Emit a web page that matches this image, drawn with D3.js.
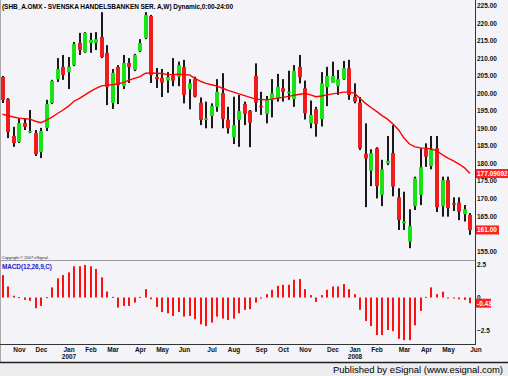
<!DOCTYPE html>
<html>
<head>
<meta charset="utf-8">
<script src="https://cdn.jsdelivr.net/npm/d3@7"></script>
<style>
  body { margin: 0; background: #f4f3f7; }
  svg { display: block; }
  text { font-family: "Liberation Sans", Arial, sans-serif; }
</style>
</head>
<body>
<div id="chart"></div>
<script>
// Weekly candles SHB A, Oct 2006 - Jun 2008, with moving average and MACD histogram

var open  = [204.6, 198.3, 187.8, 186.1, 191.5, 188.8, 188.6, 183.2, 190.1, 197.2,
             204.0, 207.5, 206.0, 208.0, 214.3, 211.7, 214.3, 214.3, 216.0, 211.5,
             197.2, 207.5, 202.0, 208.6, 206.6, 212.0, 215.7, 222.0, 204.6, 204.4,
             203.6, 205.0, 204.7, 207.4, 201.1, 204.0, 197.3, 192.4, 193.5, 196.1,
             200.0, 192.4, 187.4, 192.4, 196.9, 195.0, 204.9, 196.4, 194.1, 198.1,
             198.5, 201.4, 200.0, 198.3, 207.5, 201.4, 191.4, 195.4, 192.6, 201.7,
             203.0, 202.0, 204.0, 207.1, 199.0, 197.3, 182.7, 177.9, 184.3, 171.0,
             180.0, 182.9, 170.3, 162.9, 157.7, 167.8, 171.0, 184.0, 179.2, 184.3,
             167.8, 175.2, 168.6, 168.8, 165.5, 165.3];
var high  = [204.9, 198.6, 190.4, 192.9, 192.9, 195.2, 189.5, 190.1, 198.1, 203.8,
             210.0, 210.9, 210.3, 214.6, 217.2, 217.4, 217.2, 217.4, 223.1, 213.7,
             206.9, 208.0, 210.9, 210.0, 211.2, 215.4, 223.1, 222.3, 207.2, 206.9,
             206.0, 210.0, 209.0, 209.5, 204.0, 204.7, 198.8, 197.6, 197.1, 204.0,
             205.7, 196.1, 199.0, 199.5, 197.6, 195.2, 208.5, 200.4, 199.2, 204.0,
             205.5, 204.0, 206.4, 208.0, 210.9, 203.6, 197.9, 196.1, 206.0, 207.5,
             209.0, 206.6, 209.2, 209.5, 202.8, 198.9, 191.4, 184.0, 184.6, 181.0,
             187.8, 190.9, 172.9, 171.9, 166.9, 176.2, 184.3, 185.7, 187.8, 187.8,
             176.2, 176.2, 170.3, 170.3, 168.1, 165.8];
var low   = [197.2, 187.2, 184.7, 185.8, 189.5, 188.6, 182.1, 181.5, 189.2, 196.9,
             203.2, 203.8, 201.2, 207.7, 210.9, 211.5, 211.5, 212.3, 210.0, 196.6,
             195.5, 196.9, 201.2, 202.9, 206.3, 211.7, 215.4, 202.9, 201.5, 198.9,
             200.1, 202.0, 202.0, 197.1, 195.4, 198.8, 190.9, 190.0, 190.0, 194.7,
             190.0, 188.5, 185.5, 184.7, 190.9, 184.6, 194.7, 193.8, 191.4, 193.1,
             197.6, 197.6, 198.1, 196.1, 202.8, 192.5, 190.0, 187.6, 190.5, 196.3,
             203.0, 199.5, 203.8, 198.1, 197.1, 183.8, 167.5, 173.5, 170.0, 167.8,
             179.5, 170.6, 161.0, 161.0, 155.8, 166.7, 168.1, 179.0, 178.3, 166.1,
             164.8, 164.8, 166.4, 163.8, 163.4, 159.6];
var close = [198.1, 188.9, 185.8, 191.5, 190.4, 189.2, 182.6, 189.2, 196.9, 203.5,
             206.9, 205.2, 207.5, 214.0, 212.3, 217.2, 215.2, 215.4, 210.3, 201.8,
             205.8, 202.3, 208.6, 207.5, 210.9, 214.3, 222.3, 205.2, 204.0, 203.0,
             204.6, 203.6, 208.0, 199.5, 202.8, 199.0, 192.4, 192.8, 196.3, 200.4,
             192.6, 190.0, 190.9, 194.9, 194.1, 191.6, 197.3, 196.0, 198.1, 200.0,
             201.8, 200.4, 200.4, 206.4, 204.5, 194.3, 193.8, 191.2, 202.8, 204.9,
             204.9, 204.0, 207.1, 199.5, 197.6, 184.3, 181.4, 182.9, 173.5, 178.3,
             180.7, 173.4, 163.8, 163.4, 162.1, 175.7, 178.9, 181.9, 183.8, 167.5,
             175.2, 167.2, 168.4, 166.2, 166.9, 161.0];

// moving average line
var ma = [194.0, 193.6, 193.2, 192.9, 192.7, 192.6, 192.0, 191.6, 192.3, 193.2,
          194.2, 195.2, 196.3, 197.7, 198.5, 199.5, 200.5, 201.4, 202.1, 202.3,
          202.4, 202.7, 203.0, 203.7, 204.2, 204.7, 205.7, 205.8, 205.7, 205.6,
          205.3, 205.3, 205.4, 205.3, 205.2, 204.2, 203.4, 202.8, 202.4, 202.0,
          201.4, 200.8, 200.3, 199.8, 199.3, 198.8, 198.3, 198.2, 198.1, 198.3,
          198.6, 198.8, 199.1, 199.4, 199.7, 199.9, 199.5, 199.0, 199.2, 199.5,
          199.8, 200.0, 200.3, 200.3, 200.0, 198.5, 197.1, 195.9, 194.8, 193.6,
          192.6, 191.2, 189.6, 187.2, 185.5, 184.7, 184.4, 184.3, 184.1, 183.5,
          182.4, 181.5, 180.7, 179.8, 178.7, 177.09];

// MACD(12,26,9) histogram
var macd = [1.69, 0.83, 0.13, 0.03, -0.18, -0.25, -0.81, -0.63, 0.03, 0.76,
            1.44, 1.69, 1.89, 2.35, 2.35, 2.45, 2.35, 2.15, 1.52, 0.45,
            0.05, -0.76, -0.63, -0.63, -0.38, 0.05, 0.63, -0.13, -0.71, -1.09,
            -1.19, -1.39, -1.09, -1.44, -1.39, -1.64, -2.02, -2.15, -1.89, -1.44,
            -1.59, -1.69, -1.59, -1.19, -0.93, -0.88, -0.38, -0.08, 0.25, 0.58,
            0.88, 0.96, 0.96, 1.34, 1.39, 0.63, 0.18, -0.33, 0.18, 0.58,
            0.83, 0.83, 1.01, 0.63, 0.25, -0.93, -1.77, -2.15, -2.83, -2.83,
            -2.45, -2.53, -3.11, -3.21, -3.21, -2.10, -1.01, 0.05, 0.76, 0.25,
            0.43, -0.05, -0.08, -0.13, -0.18, -0.43];

// 160.00 sits under the last price box, so it is not listed
var priceTicks = [155, 165, 170, 175, 180, 185, 190, 195, 200, 205, 210, 215, 220, 225];
var macdTicks = [-2.5, 0, 2.5];
var maLabel = "177.09092", lastLabel = "161.00", macdLabel = "-0.43";
var title = "(SHB_A.OMX - SVENSKA HANDELSBANKEN SER. A,W) Dynamic,0:00-24:00";

var firstWeek = new Date(2006, 9, 13);
var weeks = close.map(function (c, i) { return d3.timeWeek.offset(firstWeek, i); });

var width = 508, height = 376, axisX = 475.5;

var svg = d3.select("#chart").append("svg")
    .attr("width", width)
    .attr("height", height);

svg.append("rect").attr("width", width).attr("height", height).attr("fill", "#f4f3f7");

var x = d3.scaleTime()
    .domain([weeks[0], weeks[weeks.length - 1]])
    .range([2.5, 470]);
var y = d3.scaleLinear().domain([155, 225]).range([251, 5.5]);
var ym = d3.scaleLinear().domain([-2.5, 2.5]).range([330.7, 264.3]);

// frame lines
svg.append("line").attr("x1", 0.5).attr("x2", 0.5).attr("y1", 0).attr("y2", 362)
    .attr("stroke", "#a9a9a9");
svg.append("line").attr("x1", 0).attr("x2", axisX).attr("y1", 260.5).attr("y2", 260.5)
    .attr("stroke", "#9a9a9a");
svg.append("line").attr("x1", 0).attr("x2", axisX).attr("y1", 344.5).attr("y2", 344.5)
    .attr("stroke", "#333");
svg.append("line").attr("x1", axisX).attr("x2", axisX).attr("y1", 0).attr("y2", 345)
    .attr("stroke", "#333");

// candles
var candles = svg.append("g").selectAll("g")
    .data(close)
    .join("g")
    .attr("transform", function (d, i) { return "translate(" + Math.round(x(weeks[i])) + ",0)"; });

candles.append("rect")
    .attr("x", -1)
    .attr("width", 2)
    .attr("y", function (d, i) { return y(high[i]); })
    .attr("height", function (d, i) { return Math.max(1, y(low[i]) - y(high[i])); })
    .attr("fill", "#1a1a1a");

candles.append("rect")
    .attr("x", -2)
    .attr("width", 4)
    .attr("y", function (d, i) { return y(Math.max(open[i], close[i])); })
    .attr("height", function (d, i) { return Math.max(1.5, Math.abs(y(open[i]) - y(close[i]))); })
    .attr("fill", function (d, i) { return close[i] >= open[i] ? "#17e317" : "#ee1c1c"; });

// moving average
svg.append("path")
    .datum(ma)
    .attr("fill", "none")
    .attr("stroke", "#ff0000")
    .attr("stroke-width", 1.4)
    .attr("d", d3.line()
        .x(function (d, i) { return x(weeks[i]); })
        .y(function (d) { return y(d); }));

// macd histogram
svg.append("g").selectAll("rect")
    .data(macd)
    .join("rect")
    .attr("x", function (d, i) { return Math.round(x(weeks[i])) - 1; })
    .attr("width", 2)
    .attr("y", function (d) { return Math.min(ym(0), ym(d)); })
    .attr("height", function (d) { return Math.max(1, Math.abs(ym(d) - ym(0))); })
    .attr("fill", "#ff1010");

// right axes
var priceAxis = svg.append("g")
    .attr("transform", "translate(" + axisX + ",0)")
    .call(d3.axisRight(y).tickValues(priceTicks).tickFormat(d3.format(".2f")).tickSize(0).tickPadding(1.5));
var macdAxis = svg.append("g")
    .attr("transform", "translate(" + axisX + ",0)")
    .call(d3.axisRight(ym).tickValues(macdTicks).tickFormat(function (d) { return d === 0 ? "0" : d3.format(".1f")(d); })
        .tickSize(0).tickPadding(1.5));
[priceAxis, macdAxis].forEach(function (a) {
    a.select(".domain").remove();
    a.selectAll("text").attr("font-size", 6.5).attr("font-weight", "bold").attr("fill", "#111")
        .attr("font-family", "'Liberation Sans', Arial, sans-serif");
});

// month axis
var monthTicks = d3.timeMonth.range(new Date(2006, 10, 1), new Date(2008, 5, 2))
    .map(function (m) { return d3.timeFriday.ceil(m); });
var yearTicks = monthTicks.filter(function (d) { return d.getMonth() === 0; });

var monthAxis = svg.append("g")
    .attr("transform", "translate(0,346)")
    .call(d3.axisBottom(x).tickValues(monthTicks).tickFormat(d3.timeFormat("%b")).tickSize(0).tickPadding(1));
var yearAxis = svg.append("g")
    .attr("transform", "translate(0,353.5)")
    .call(d3.axisBottom(x).tickValues(yearTicks).tickFormat(d3.timeFormat("%Y")).tickSize(0).tickPadding(1));
[monthAxis, yearAxis].forEach(function (a) {
    a.select(".domain").remove();
    a.selectAll("text").attr("font-size", 6.5).attr("font-weight", "bold").attr("fill", "#111")
        .attr("font-family", "'Liberation Sans', Arial, sans-serif");
});

// value boxes on the right
function valueBox(cy, label, w) {
    svg.append("rect").attr("x", axisX + 0.5).attr("y", cy - 4.5).attr("width", w).attr("height", 9)
        .attr("fill", "#ff2020");
    svg.append("text").attr("x", axisX + 1.5).attr("y", cy + 2.4).text(label)
        .attr("font-size", 6.5).attr("font-weight", "bold").attr("fill", "#fff");
}
valueBox(y(ma[ma.length - 1]), maLabel, 32);
valueBox(y(close[close.length - 1]), lastLabel, 23);
valueBox(ym(macd[macd.length - 1]), macdLabel, 15);

// titles
svg.append("text").attr("x", 2).attr("y", 8.5).text(title)
    .attr("font-size", 6.5).attr("font-weight", "bold").attr("textLength", 231).attr("fill", "#000");
svg.append("text").attr("x", 2).attr("y", 258.5).text("Copyright \u00a9 2007 eSignal.")
    .attr("font-size", 4).attr("fill", "#222");
svg.append("text").attr("x", 2).attr("y", 269).text("MACD(12,26,9,C)")
    .attr("font-size", 6.5).attr("font-weight", "bold").attr("textLength", 50).attr("fill", "#1a1acc");

// footer
svg.append("rect").attr("x", 0).attr("y", 362).attr("width", width).attr("height", 14).attr("fill", "#ededed");
svg.append("line").attr("x1", 0).attr("x2", width).attr("y1", 362.5).attr("y2", 362.5)
    .attr("stroke", "#222").attr("stroke-width", 1.5);
svg.append("text").attr("x", 503).attr("y", 373).attr("text-anchor", "end")
    .text("Published by eSignal (www.esignal.com)")
    .attr("font-size", 9.5).attr("textLength", 170).attr("fill", "#000");
</script>
</body>
</html>
